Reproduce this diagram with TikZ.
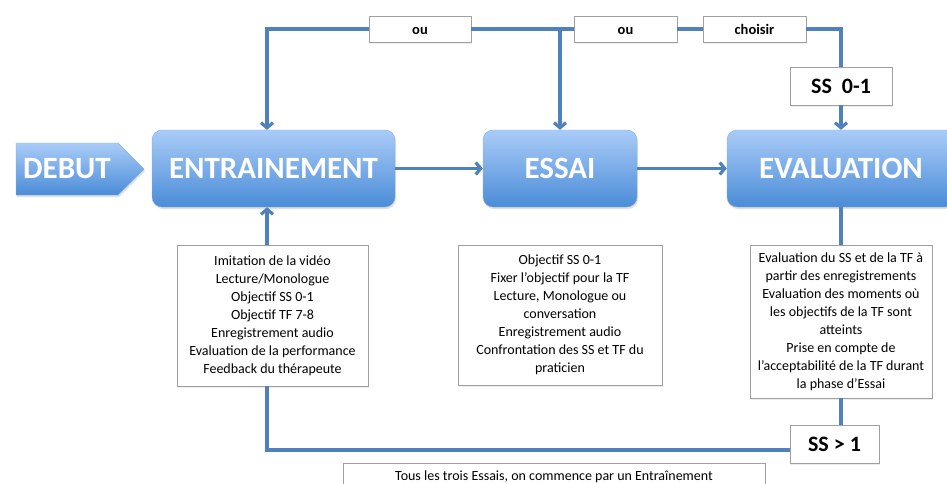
\documentclass[tikz,border=0pt]{standalone}
\usepackage{fontspec}
\setmainfont{Carlito}
\usetikzlibrary{positioning,shapes,shadows,arrows.meta}

\definecolor{lienbleu}{RGB}{79,129,189}
\definecolor{hautbleu}{RGB}{170,204,248}
\definecolor{basbleu}{RGB}{74,140,215}
\definecolor{bordgris}{RGB}{160,160,160}

\tikzset{
  degrade/.style={top color=hautbleu, bottom color=basbleu, draw=basbleu!70!white,
    text=white, font=\fontsize{31}{36}\selectfont\bfseries,
    drop shadow={opacity=0.25, shadow xshift=1pt, shadow yshift=-2pt}},
  etape/.style={degrade, rounded corners=10pt, minimum height=77pt},
  cadre/.style={draw=bordgris, fill=white, line width=0.8pt, align=center,
    font=\fontsize{14}{18}\selectfont, inner xsep=2pt,
    drop shadow={opacity=0.15, shadow xshift=1pt, shadow yshift=-1.5pt}},
  choix/.style={cadre, minimum height=26pt, text height=10pt, text depth=0pt,
    font=\fontsize{14.5}{16}\selectfont\bfseries},
  seuil/.style={cadre, minimum height=38pt, font=\fontsize{22}{26}\selectfont\bfseries},
  lien/.style={draw=lienbleu, line width=3.2pt},
  fleche/.style={lien, -{Straight Barb[length=5pt,width=12pt]}},
}

\begin{document}
\begin{tikzpicture}[x=1pt,y=-1pt]
	\useasboundingbox (0,0) rectangle (947,483);

	% Etapes
	\node[degrade, shape=signal, signal to=east, signal pointer angle=90,
	  minimum width=128pt, minimum height=52pt, inner sep=0pt] (debut) at (67,169) {DEBUT};
	\node[etape, minimum width=243pt] (entr) at (273.5,168.5) {ENTRAINEMENT};
	\node[etape, minimum width=154pt] (essai) at (560,168.5) {ESSAI};
	\node[etape, minimum width=228pt] (eval) at (841,168.5) {EVALUATION};

	% Choix en haut
	\node[choix, minimum width=102pt] (ou1) at (420,29) {ou};
	\node[choix, minimum width=103pt] (ou2) at (625.5,29) {ou};
	\node[choix, minimum width=103pt] (choisir) at (754.5,29) {choisir};
	\node[seuil, minimum width=102pt] (ss01) at (841,86) {SS\ \ 0-1};
	\node[seuil, minimum width=89pt] (ssgt) at (834.5,444) {SS > 1};

	% Descriptions
	\node[cadre, minimum width=191pt, minimum height=141pt] (txtentr) at (272.5,315.5)
	  {Imitation de la vidéo\\ Lecture/Monologue\\ Objectif SS 0-1\\ Objectif TF 7-8\\
	   Enregistrement audio\\ Evaluation de la performance\\ Feedback du thérapeute};
	\node[cadre, minimum width=204pt, minimum height=140pt] (txtessai) at (560,315)
	  {Objectif SS 0-1\\ Fixer l’objectif pour la TF\\ Lecture, Monologue ou\\ conversation\\
	   Enregistrement audio\\ Confrontation des SS et TF du\\ praticien};
	\node[cadre, minimum width=182pt, minimum height=153pt] (txteval) at (841,321.5)
	  {Evaluation du SS et de la TF à\\ partir des enregistrements\\ Evaluation des moments où\\
	   les objectifs de la TF sont\\ atteints\\ Prise en compte de\\
	   l’acceptabilité de la TF durant\\ la phase d’Essai};
	\node[cadre, anchor=north, minimum width=422pt, inner ysep=7.5pt, text depth=20pt] (note) at (554,463)
	  {Tous les trois Essais, on commence par un Entraînement};

	\coordinate (axe) at (267,0);

	% Liens du haut
	\draw[fleche] (ou1.west) -| (axe |- entr.north);
	\draw[lien] (ou1.east) -- (ou2.west);
	\draw[fleche] (essai.north |- ou2.west) -- (essai.north);
	\draw[lien] (ou2.east) -- (choisir.west);
	\draw[lien] (choisir.east) -| (ss01.north);
	\draw[fleche] (ss01.south) -- (eval.north);

	% Enchainement
	\draw[fleche] (entr.east) -- (essai.west);
	\draw[fleche] (essai.east) -- (eval.west);

	% Retour par le bas
	\draw[fleche] (axe |- txtentr.north) -- (axe |- entr.south);
	\draw[lien] (axe |- txtentr.south) |- ([yshift=-6pt]ssgt.west);
	\draw[lien] (txteval.north -| eval.south) -- (eval.south);
	\draw[lien] (txteval.south) -- (txteval.south |- ssgt.north);
\end{tikzpicture}
\end{document}
